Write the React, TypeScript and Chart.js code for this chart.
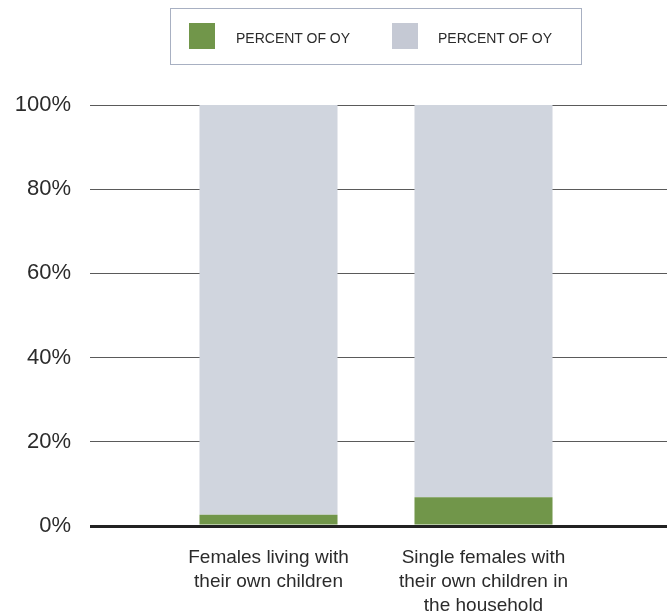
import React, { useEffect, useRef } from "react";
import { Chart, registerables } from "chart.js";

Chart.register(...registerables);

// Household categories (multi-line axis labels)
const categories: string[][] = [
  ["Females living with", "their own children"],
  ["Single females with", "their own children in", "the household"],
];

// Share of each group that is OY vs. the remainder
const oyShare: number[] = [2.7, 6.8];
const otherShare: number[] = [97.3, 93.2];

const seriesLabels: string[] = ["PERCENT OF OY", "PERCENT OF OY"];
const yTicks: number[] = [0, 20, 40, 60, 80, 100];

const GREEN = "#71964a";
const GREY = "#d0d5de";
const GREY_SWATCH = "#c5c9d4";
const GRID = "#5a5a5a";
const ZERO = "#222222";
const TEXT = "#2b2b2b";

const gridColor = (ctx: any) => (ctx.tick && ctx.tick.value === 0 ? ZERO : GRID);
const gridWidth = (ctx: any) => (ctx.tick && ctx.tick.value === 0 ? 3 : 1);

export default function App() {
  const canvasRef = useRef<HTMLCanvasElement | null>(null);

  useEffect(() => {
    document.body.style.margin = "0";
    const canvas = canvasRef.current;
    if (!canvas) return;
    const chart = new Chart(canvas, {
      type: "bar",
      data: {
        labels: categories,
        datasets: [
          {
            label: seriesLabels[0],
            data: oyShare,
            backgroundColor: GREEN,
            borderWidth: 0,
            categoryPercentage: 1,
            barPercentage: 0.642,
          },
          {
            label: seriesLabels[1],
            data: otherShare,
            backgroundColor: GREY,
            borderWidth: 0,
            categoryPercentage: 1,
            barPercentage: 0.642,
          },
        ],
      },
      options: {
        responsive: false,
        animation: false,
        layout: { padding: { top: 105, left: 0, right: 0, bottom: 0 } },
        plugins: {
          legend: { display: false },
          tooltip: { enabled: false },
        },
        scales: {
          x: {
            stacked: true,
            z: 1,
            grid: { display: false },
            border: { display: true, color: ZERO, width: 3 },
            ticks: {
              color: TEXT,
              padding: 11.5,
              maxRotation: 0,
              autoSkip: false,
              font: { family: "'Liberation Sans', Arial, sans-serif", size: 19, lineHeight: 1.27 },
            },
            afterFit: (s: any) => {
              s.height = 90;
            },
          },
          y: {
            stacked: true,
            min: 0,
            max: 100,
            afterBuildTicks: (s: any) => {
              s.ticks = yTicks.map((v) => ({ value: v }));
            },
            border: { display: false },
            grid: {
              color: gridColor,
              lineWidth: gridWidth,
              drawTicks: true,
              tickLength: 71,
            },
            ticks: {
              color: TEXT,
              padding: 19,
              callback: (v: any) => `${v}%`,
              font: { family: "'Liberation Sans', Arial, sans-serif", size: 22 },
            },
            afterFit: (s: any) => {
              s.width = 161;
            },
          },
          y2: {
            position: "right",
            min: 0,
            max: 100,
            afterBuildTicks: (s: any) => {
              s.ticks = yTicks.map((v) => ({ value: v }));
            },
            border: { display: false },
            grid: {
              color: gridColor,
              lineWidth: gridWidth,
              drawOnChartArea: false,
              drawTicks: true,
              tickLength: 77,
            },
            ticks: { display: false },
            afterFit: (s: any) => {
              s.width = 76;
            },
          },
        },
      },
    });
    return () => chart.destroy();
  }, []);

  const legendText: React.CSSProperties = {
    position: "absolute",
    top: 20,
    fontFamily: "'Liberation Sans', Arial, sans-serif",
    fontSize: 14,
    lineHeight: "18px",
    color: TEXT,
    whiteSpace: "nowrap",
  };

  return (
    <div style={{ position: "relative", width: 667, height: 616, background: "#fff" }}>
      <canvas ref={canvasRef} width={667} height={616} style={{ position: "absolute", left: 0, top: 0 }} />
      <div
        style={{
          position: "absolute",
          left: 170,
          top: 8,
          width: 410,
          height: 55,
          border: "1.5px solid #a8b0c2",
        }}
      >
        <div style={{ position: "absolute", left: 18, top: 14, width: 26, height: 26, background: GREEN }} />
        <div style={{ ...legendText, left: 65 }}>{seriesLabels[0]}</div>
        <div style={{ position: "absolute", left: 221, top: 14, width: 26, height: 26, background: GREY_SWATCH }} />
        <div style={{ ...legendText, left: 267 }}>{seriesLabels[1]}</div>
      </div>
    </div>
  );
}
